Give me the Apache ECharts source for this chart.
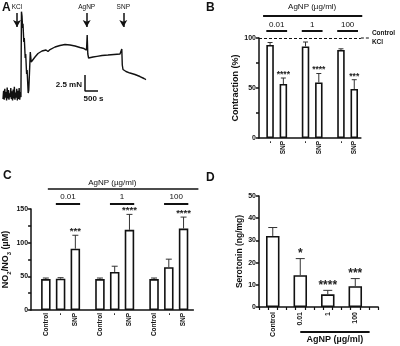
<!DOCTYPE html>
<html>
<head>
<meta charset="utf-8">
<script src="https://cdn.jsdelivr.net/npm/echarts@6/dist/echarts.min.js"></script>
<style>
  html, body { margin: 0; padding: 0; background: #fff; }
  #main { width: 400px; height: 346px; }
</style>
</head>
<body>
<div id="main"></div>
<script>
// ---- A: isometric tension trace (s, mN)
const traceTime = [0, 23, 46, 69, 92, 115, 138, 161, 184, 207, 230, 253, 276, 299, 322, 345, 368, 391, 414, 437,
  460, 483, 506, 529, 552, 575, 598, 621, 644, 667, 690,
  710, 731, 754, 769, 800, 819, 854, 873, 908, 927, 969, 992, 1050, 1085, 1135, 1231, 1346, 1500, 1654, 1731,
  1808, 2000, 2192, 2385, 2577, 2770, 2962, 3115, 3212, 3238, 3262, 3292, 3346, 3462, 3615, 3808, 4038, 4269,
  4500, 4550, 4569, 4588, 4615, 4731, 4885, 5077, 5269, 5423, 5500];
const traceForce = [0.3, 1.6, 0.2, 1.9, 0.5, 1.4, 0.1, 2.1, 0.4, 1.7, 0.2, 1.2, 0.6, 2.0, 0.3, 1.5, 0.1, 1.8, 0.4, 2.2,
  0.2, 1.3, 0.5, 1.9, 0.1, 1.6, 0.3, 2.0, 0.2, 1.4, 0.6,
  13.9, 13.2, 11.35, 12.0, 9.2, 9.8, 6.7, 7.3, 4.2, 4.8, 1.24, 1.7, 7.6, 6.07, 6.2, 6.84, 7.39, 7.78, 7.93, 7.7,
  8.0, 8.4, 8.63, 8.79, 8.71, 8.55, 8.32, 8.16, 7.93, 10.26, 7.31, 6.69, 6.61, 6.84, 6.95, 7.08, 7.15, 7.23,
  7.31, 7.31, 8.09, 5.6, 4.9, 4.59, 4.35, 4.12, 3.81, 3.5, 3.34];
const eventNames = ['KCl', 'AgNP', 'SNP'];
const eventTimes = [538, 3219, 4627];
const scaleTime = 500;   // s
const scaleForce = 2.5;  // mN

// ---- B: contraction (% of KCl control)
const catsB = ['-', 'SNP', '-', 'SNP', '-', 'SNP'];
const contraction = [93, 54, 91.5, 55.5, 88, 49];
const contractionErr = [2.5, 6, 4.5, 9, 1.2, 9.3];
const starsB = ['', '****', '', '****', '', '***'];
const doseLabels = ['0.01', '1', '100'];

// ---- C: NO2/NO3 (uM)
const catsC = ['Control', '-', 'SNP', 'Control', '-', 'SNP', 'Control', '-', 'SNP'];
const nox = [46, 46.5, 91, 46, 56.5, 119, 46, 63.5, 121];
const noxErr = [1.5, 1.5, 20, 1.5, 8.5, 23, 1.5, 12, 17];
const starsC = ['', '', '***', '', '', '****', '', '', '****'];

// ---- D: serotonin (ng/mg)
const catsD = ['Control', '0.01', '1', '100'];
const serotonin = [32, 14.3, 5.7, 9.4];
const serotoninErr = [3.8, 7.5, 1.8, 3.4];
const starsD = ['', '*', '****', '***'];

// layout: category slots used by the bars (gaps between groups)
const slotsB = [2, 5, 10, 13, 18, 21];
const slotsC = [3, 6, 9, 14, 17, 20, 25, 28, 31];
const slotsD = [1, 4, 7, 10];

const FONT = 'Liberation Sans, Arial, sans-serif';
const INK = '#111';

const chart = echarts.init(document.getElementById('main'));

function catAxis(idx, n, slots, labels, extra) {
    const data = new Array(n).fill('');
    slots.forEach((s, i) => { data[s] = labels[i]; });
    return Object.assign({
        type: 'category', gridIndex: idx, data: data, boundaryGap: true,
        axisLine: { lineStyle: { color: INK, width: 1.5 } },
        axisTick: { show: false },
        axisLabel: { interval: 0, rotate: 90, fontSize: 6.5, fontWeight: 'bold', color: INK, fontFamily: FONT, margin: 3 }
    }, extra || {});
}

function valAxis(idx, max, interval, step, name, nameGap, nameStyle) {
    return {
        type: 'value', gridIndex: idx, min: 0, max: max, interval: interval,
        name: name, nameLocation: 'middle', nameGap: nameGap,
        nameTextStyle: Object.assign({ fontSize: 9, fontWeight: 'bold', color: INK, fontFamily: FONT }, nameStyle || {}),
        splitLine: { show: false },
        axisLine: { show: true, lineStyle: { color: INK, width: 1.5 } },
        axisTick: { show: true, length: 3, lineStyle: { color: INK, width: 1.5 } },
        axisLabel: {
            fontSize: 7, fontWeight: 'bold', color: INK, fontFamily: FONT, margin: 3,
            formatter: v => (v % step === 0 ? String(v) : '')
        }
    };
}

function barSeries(idx, slots, values, width, extra) {
    return Object.assign({
        type: 'bar', xAxisIndex: idx, yAxisIndex: idx,
        data: slots.map((s, i) => [s, values[i]]),
        barWidth: width,
        itemStyle: { color: '#fff', borderColor: INK, borderWidth: 1.6 },
        z: 2
    }, extra || {});
}

function errSeries(idx, slots, values, errs, stars, capW, starSize) {
    return {
        type: 'custom', xAxisIndex: idx, yAxisIndex: idx, z: 3,
        data: slots.map((s, i) => [s, values[i], errs[i]]),
        renderItem: (params, api) => {
            const base = api.coord([api.value(0), api.value(1)]);
            const top = api.coord([api.value(0), api.value(1) + api.value(2)]);
            const star = stars[params.dataIndex];
            const children = [
                { type: 'line', shape: { x1: base[0], y1: base[1], x2: top[0], y2: top[1] }, style: { stroke: '#333', lineWidth: 1 } },
                { type: 'line', shape: { x1: top[0] - capW / 2, y1: top[1], x2: top[0] + capW / 2, y2: top[1] }, style: { stroke: '#333', lineWidth: 1 } }
            ];
            if (star) {
                children.push({
                    type: 'text', x: top[0], y: top[1] + 1,
                    style: { text: star, align: 'center', verticalAlign: 'bottom', fill: '#222', font: 'bold ' + starSize + 'px ' + FONT }
                });
            }
            return { type: 'group', children: children };
        }
    };
}

const option = {
    animation: false,
    backgroundColor: '#fff',
    grid: [
        { left: 3, top: 11, width: 143, height: 90 },
        { left: 259, top: 38, width: 101.9, height: 100 },
        { left: 30, top: 209, width: 163.4, height: 101 },
        { left: 259, top: 196, width: 119.2, height: 111 }
    ],
    xAxis: [
        { type: 'value', gridIndex: 0, min: 0, max: 5500, show: false },
        catAxis(1, 23, slotsB, catsB),
        catAxis(2, 34, slotsC, catsC, { boundaryGap: false }),
        catAxis(3, 13, slotsD, catsD, {
            axisTick: { show: true, interval: 0, length: 3, lineStyle: { color: INK, width: 1.2 } },
            axisLabel: { interval: 0, rotate: 90, fontSize: 7, fontWeight: 'bold', color: INK, fontFamily: FONT, margin: 5 }
        })
    ],
    yAxis: [
        { type: 'value', gridIndex: 0, min: 0, max: 14, show: false },
        valAxis(1, 100, 25, 50, 'Contraction (%)', 19),
        valAxis(2, 150, 25, 50, '{t|NO}{s|2}{t|/NO}{s|3}{t| (µM)}', 18, {
            rich: {
                t: { fontSize: 9, fontWeight: 'bold', color: INK, fontFamily: FONT, lineHeight: 14, verticalAlign: 'middle' },
                s: { fontSize: 6, fontWeight: 'bold', color: INK, fontFamily: FONT, lineHeight: 14, verticalAlign: 'bottom' }
            }
        }),
        valAxis(3, 50, 10, 10, 'Serotonin (ng/mg)', 14, { fontSize: 8.5 })
    ],
    series: [
        {
            type: 'line', xAxisIndex: 0, yAxisIndex: 0, showSymbol: false, z: 2,
            data: traceTime.map((t, i) => [t, traceForce[i]]),
            lineStyle: { color: INK, width: 1.4 },
            markLine: {
                silent: true, symbol: ['none', 'arrow'], symbolSize: [6, 7],
                lineStyle: { color: INK, width: 1.5, type: 'solid' },
                label: { show: true, position: 'start', formatter: '{b}', fontSize: 6.5, color: INK, fontFamily: FONT, distance: 2 },
                data: eventTimes.map((t, i) => [
                    { coord: [t, 13.7], name: eventNames[i] },
                    { coord: [t, 11.5] }
                ])
            }
        },
        {
            // scale bar, drawn in data units
            type: 'line', xAxisIndex: 0, yAxisIndex: 0, showSymbol: false,
            data: [[3154, 1.55 + scaleForce], [3154, 1.55], [3154 + scaleTime, 1.55]],
            lineStyle: { color: INK, width: 1.5 }
        },
        barSeries(1, slotsB, contraction, 7.5, {
            markLine: {
                silent: true, symbol: 'none',
                lineStyle: { color: INK, width: 1, type: [3, 2] },
                label: { show: true, position: 'end', formatter: 'Control\nKCl', fontSize: 6.5, fontWeight: 'bold', color: INK, fontFamily: FONT, lineHeight: 9, distance: 11 },
                data: [{ yAxis: 100 }]
            }
        }),
        errSeries(1, slotsB, contraction, contractionErr, starsB, 5, 8.5),
        barSeries(2, slotsC, nox, 9.5),
        errSeries(2, slotsC, nox, noxErr, starsC, 6, 9.5),
        barSeries(3, slotsD, serotonin, 13.5),
        errSeries(3, slotsD, serotonin, serotoninErr, starsD, 9, 12)
    ]
};

chart.setOption(option);

// brackets and annotations placed through the axes' own scales
const px = (idx, slot) => chart.convertToPixel({ xAxisIndex: idx }, slot);
const txt = (x, y, text, size, weight, align) => ({
    type: 'text', x: x, y: y,
    style: { text: text, fill: INK, font: (weight || 'normal') + ' ' + size + 'px ' + FONT, align: align || 'center', verticalAlign: 'middle' }
});
const hline = (x1, x2, y, w, dash) => ({ type: 'line', shape: { x1: x1, y1: y, x2: x2, y2: y }, style: { stroke: INK, lineWidth: w, lineDash: dash || null } });

const graphics = [
    txt(2, 8, 'A', 12, 'bold', 'left'),
    txt(206, 8, 'B', 12, 'bold', 'left'),
    txt(3, 176, 'C', 12, 'bold', 'left'),
    txt(206, 178, 'D', 12, 'bold', 'left')
];

// A: scale bar labels
const sbCorner = chart.convertToPixel({ xAxisIndex: 0, yAxisIndex: 0 }, [3154, 1.55]);
const sbTop = chart.convertToPixel({ xAxisIndex: 0, yAxisIndex: 0 }, [3154, 1.55 + scaleForce]);
const sbEnd = chart.convertToPixel({ xAxisIndex: 0, yAxisIndex: 0 }, [3154 + scaleTime, 1.55]);
graphics.push(txt(sbCorner[0] - 3, (sbCorner[1] + sbTop[1]) / 2 + 2, scaleForce + ' mN', 8, 'bold', 'right'));
graphics.push(txt((sbCorner[0] + sbEnd[0]) / 2 + 2, sbCorner[1] + 8, scaleTime + ' s', 8, 'bold', 'center'));

// B: dashed control line continues a little past the axis end
const yB100 = chart.convertToPixel({ yAxisIndex: 1 }, 100);
const axB1 = px(1, 22) + 2.2;
graphics.push(hline(axB1, axB1 + 9, yB100, 1, [3, 2]));

// B: dose brackets
const bwB = 7.5;
const firstB = px(1, slotsB[0]), lastB = px(1, slotsB[slotsB.length - 1]);
graphics.push(hline(firstB - 7, lastB + 8, 16, 2));
graphics.push(txt((firstB + lastB) / 2, 7, 'AgNP (µg/ml)', 8));
doseLabels.forEach((d, i) => {
    const a = px(1, slotsB[2 * i]) - bwB / 2, b = px(1, slotsB[2 * i + 1]) + bwB / 2;
    graphics.push(hline(a, b, 31, 2));
    graphics.push(txt((a + b) / 2, 25, d, 8));
});

// C: dose brackets
const bwC = 9.5;
const axC0 = px(2, 0), axC1 = px(2, 33);
graphics.push(hline(px(2, slotsC[0]) + 2, axC1 + 5, 189, 1.5));
graphics.push(txt((axC0 + axC1) / 2, 183, 'AgNP (µg/ml)', 8));
doseLabels.forEach((d, i) => {
    const a = px(2, slotsC[3 * i + 1]) - bwC / 2, b = px(2, slotsC[3 * i + 2]) + bwC / 2;
    graphics.push(hline(a, b, 204, 2));
    graphics.push(txt((a + b) / 2, 197, d, 8));
});

// D: bottom bracket
const dA = px(3, slotsD[1]), dB = px(3, 12) - 4;
graphics.push(hline(dA, dB, 332, 2));
graphics.push(txt((dA + dB) / 2, 340, 'AgNP (µg/ml)', 9, 'bold'));

chart.setOption({ graphic: graphics });
</script>
</body>
</html>
